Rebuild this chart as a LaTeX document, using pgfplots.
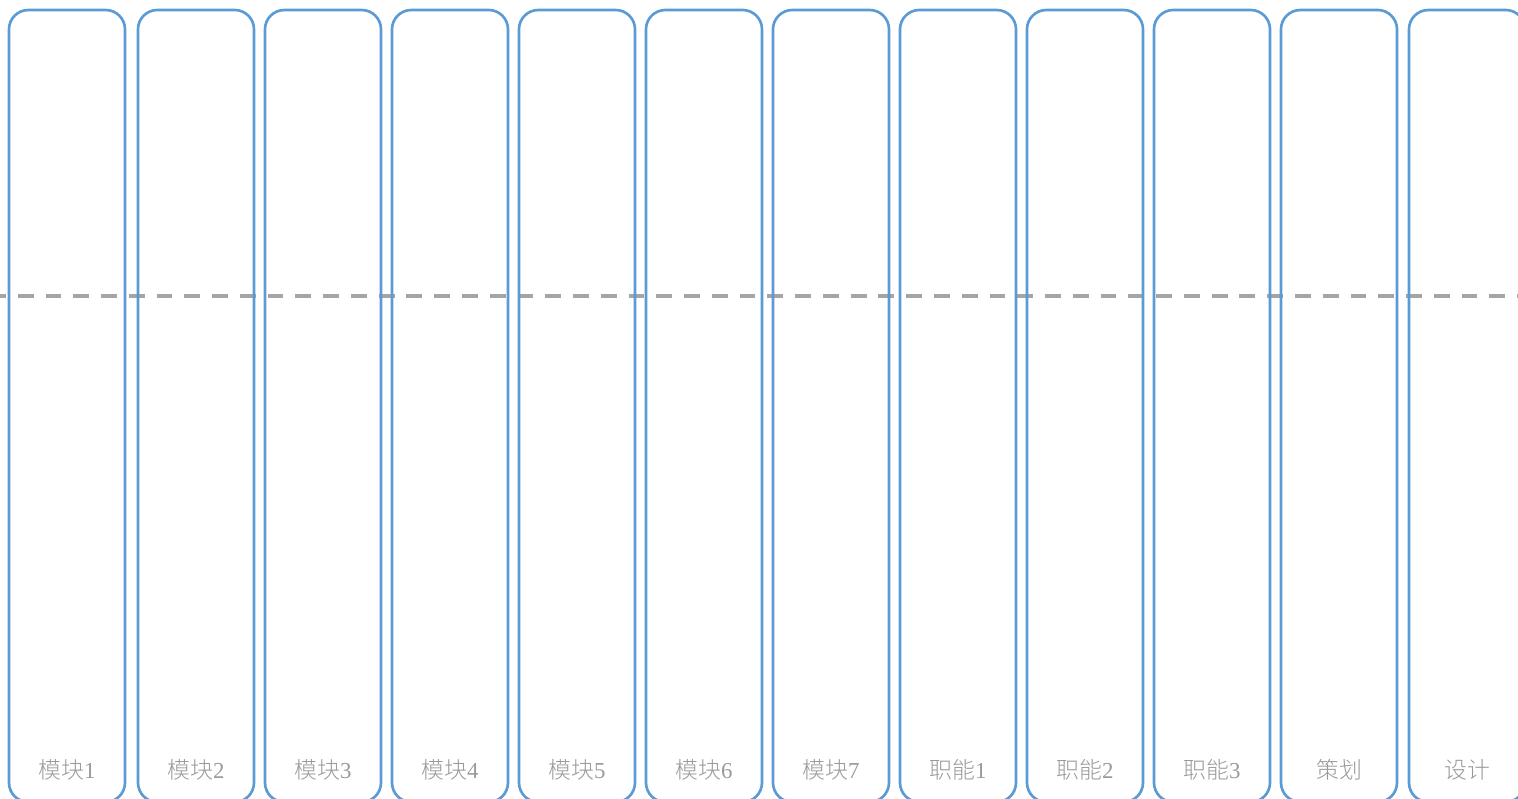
\documentclass[border=0pt]{standalone}
\usepackage{pgfplots}
\pgfplotsset{compat=1.18}
\usepackage{pgfplotstable}
\usepackage{fontspec}
\setmainfont{Liberation Serif}
\newfontfamily\cjk{Noto Sans CJK SC Light}
\definecolor{boxblue}{HTML}{5B9BD5}
\definecolor{dashgray}{HTML}{A5A5A5}
\definecolor{txtgray}{HTML}{9A9A9A}
\newcommand\lblmk{{\cjk 模块}}
\newcommand\lblzn{{\cjk 职能}}
\newcommand\lblch{{\cjk 策划}}
\newcommand\lblsj{{\cjk 设计}}
% y = 10 - (pixel row): box tops at 0, boxes run down past the lower edge
\pgfplotstableread{
x y label
67 -792 \lblmk1
196 -792 \lblmk2
323 -792 \lblmk3
450 -792 \lblmk4
577 -792 \lblmk5
704 -792 \lblmk6
831 -792 \lblmk7
958 -792 \lblzn1
1085 -792 \lblzn2
1212 -792 \lblzn3
1339 -792 \lblch
1467 -792 \lblsj
}\boxes
\begin{document}
\begin{tikzpicture}
\begin{axis}[
  name=ax,
  width=15.18cm, height=7.98cm, scale only axis,
  xmin=0, xmax=1518, ymin=-788, ymax=10,
  hide axis, clip=false,
]
\addplot[dashgray, line width=1pt, dash pattern=on 4.5pt off 3.4pt] coordinates {(-10,-286) (1540,-286)};
\addplot[ybar, bar width=116, bar shift=0pt, draw=boxblue, fill=none, line width=0.75pt, rounded corners=5.5pt] table[x=x, y=y] {\boxes};
\addplot[draw=none, mark=none, nodes near coords, point meta=explicit symbolic,
  nodes near coords style={anchor=center, font=\fontsize{6.5}{8}\selectfont, text=txtgray}]
  table[x=x, y expr=-760, meta=label] {\boxes};
\end{axis}
\pgfresetboundingbox
\path (ax.south west) rectangle (ax.north east);
\end{tikzpicture}
\end{document}
